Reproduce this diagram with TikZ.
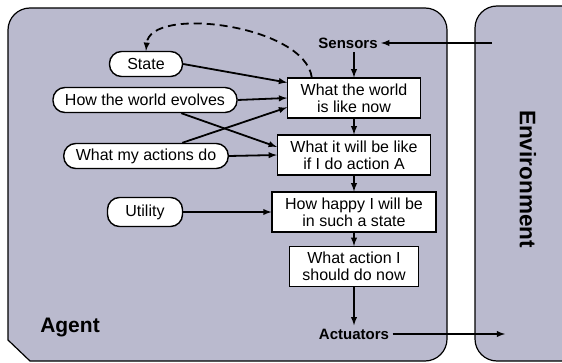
\documentclass[tikz,border=0pt]{standalone}
\usepackage{fontspec}
\setmainfont{Liberation Sans}
\usetikzlibrary{positioning}
\definecolor{agentgray}{RGB}{186,186,206}
\begin{document}
\begin{tikzpicture}[x=1pt,y=1pt]
  \tikzset{panel/.style={draw,line width=1.2pt,fill=agentgray},
    proc/.style={draw,fill=white,line width=1.2pt,align=center,inner xsep=13pt,
      inner ysep=3pt,minimum height=40pt,font=\fontsize{16}{17}\selectfont},
    know/.style={draw,fill=white,line width=1.4pt,rounded corners=12pt,
      minimum height=25pt,inner xsep=12pt,font=\fontsize{16}{17}\selectfont},
    io/.style={font=\bfseries\fontsize{15}{17}\selectfont},
    flow/.style={->,>=latex,line width=1.8pt}}
  \useasboundingbox (0,0) rectangle (562,362);
  \clip (0,0) rectangle (562,362);
  % agent and environment
  \draw[panel] (8,22) -- (8,332) arc[start angle=180,end angle=90,radius=22]
    -- (425,354) arc[start angle=90,end angle=0,radius=22]
    -- (447,23) arc[start angle=0,end angle=-90,radius=22] -- (30,1) -- cycle;
  \draw[panel,rounded corners=22pt] (475,1) rectangle (600,356);
  \node[font=\bfseries\fontsize{21}{21}\selectfont] (ag) at (70,35) {Agent};
  \node[rotate=-90,font=\bfseries\fontsize{22.5}{22}\selectfont] (env) at (528,183) {Environment};

  \node[proc] (now) at (354,264) {What the world\\is like now};
  \node[proc] (will) [below of=now,node distance=57pt] {What it will be like\\if I do action A};
  \node[proc] (happy) [below of=will,node distance=57pt] {How happy I will be\\in such a state};
  \node[proc] (act) [below of=happy,node distance=57pt,yshift=2.5pt] {What action I\\should do now};
  \node[io] (sens) at (348,319) {Sensors};
  \node[io] (actu) at (354,28) {Actuators};
  \coordinate (envin) at (492,319);
  \coordinate (envout) at (505,28);

  \node[know,minimum width=73pt] (st) at (146,298) {State};
  \node[know] (evo) at (145,262) {How the world evolves};
  \node[know] (mine) at (146,206) {What my actions do};
  \node[know,minimum width=75pt,minimum height=29pt] (util) at (145,150) {Utility};

  \draw[flow] (envin) -- (sens);
  \draw[flow] (sens.south -| now.north) -- (now);
  \draw[flow] (now) -- (will);
  \draw[flow] (will) -- (happy);
  \draw[flow] (happy) -- (act);
  \draw[flow] (act) -- (actu);
  \draw[flow] (actu) -- (envout);

  \draw[flow] (st.east) -- (now.167);
  \draw[flow] (evo.east) -- (now.west);
  \draw[flow] (evo.-20) -- (will.174);
  \draw[flow] (mine.20) -- (now.188);
  \draw[flow] (mine.east) -- (will.west);
  \draw[flow] (util) -- (happy);
  \draw[flow,dash pattern=on 8pt off 5pt] (now.154) .. controls (305,337) and (150,357) .. (st.north);
\end{tikzpicture}
\end{document}
